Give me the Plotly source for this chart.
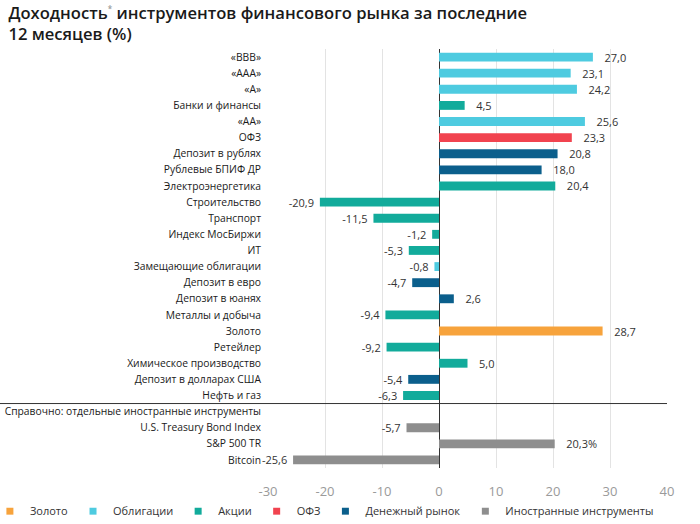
import plotly.graph_objects as go

categories = ["«BBB»", "«AAA»", "«A»", "Банки и финансы", "«AA»", "ОФЗ",
              "Депозит в рублях", "Рублевые БПИФ ДР", "Электроэнергетика",
              "Строительство", "Транспорт", "Индекс МосБиржи", "ИТ",
              "Замещающие облигации", "Депозит в евро", "Депозит в юанях",
              "Металлы и добыча", "Золото", "Ретейлер", "Химическое производство",
              "Депозит в долларах США", "Нефть и газ",
              "Справочно: отдельные иностранные инструменты",
              "U.S. Treasury Bond Index", "S&P 500 TR", "Bitcoin"]
values = [27.0, 23.1, 24.2, 4.5, 25.6, 23.3, 20.8, 18.0, 20.4, -20.9, -11.5, -1.2,
          -5.3, -0.8, -4.7, 2.6, -9.4, 28.7, -9.2, 5.0, -5.4, -6.3, None,
          -5.7, 20.3, -25.6]
groups = ["Облигации", "Облигации", "Облигации", "Акции", "Облигации", "ОФЗ",
          "Денежный рынок", "Денежный рынок", "Акции", "Акции", "Акции", "Акции",
          "Акции", "Облигации", "Денежный рынок", "Денежный рынок", "Акции",
          "Золото", "Акции", "Акции", "Денежный рынок", "Акции", None,
          "Иностранные инструменты", "Иностранные инструменты", "Иностранные инструменты"]
suffixes = [""] * 24 + ["%", ""]

legend_order = ["Золото", "Облигации", "Акции", "ОФЗ", "Денежный рынок",
                "Иностранные инструменты"]
colors = {"Золото": "#F7A33C", "Облигации": "#4ECBE0", "Акции": "#12AB9B",
          "ОФЗ": "#F1434F", "Денежный рынок": "#0B5F8C",
          "Иностранные инструменты": "#8E8E8E"}

x_ticks = [-30, -20, -10, 0, 10, 20, 30, 40]
sep_after = "Нефть и газ"

FONT = "Open Sans"
fig = go.Figure()

for g in legend_order:
    idx = [i for i, gg in enumerate(groups) if gg == g]
    xs = [values[i] for i in idx]
    ys = [i for i in idx]
    txt = []
    for i in idx:
        s = f"{values[i]:.1f}".replace(".", ",") + suffixes[i]
        txt.append("   " + s if values[i] >= 0 else s + " ")
    fig.add_trace(go.Bar(x=xs, y=ys, orientation="h", marker_color=colors[g],
                         marker_line_width=0, width=0.55, text=txt,
                         textposition="outside", cliponaxis=False,
                         constraintext="none",
                         textfont=dict(size=11, color="#333333", family=FONT),
                         showlegend=False))

for g in legend_order:
    fig.add_trace(go.Scatter(x=[None], y=[None], mode="markers", name=g,
                             marker=dict(symbol="square", size=7, color=colors[g])))

sep_y = categories.index(sep_after) + 0.5
fig.add_shape(type="line", xref="paper", yref="y", x0=-268 / 399, x1=1,
              y0=sep_y, y1=sep_y, line=dict(color="#333333", width=1))

fig.update_layout(
    width=700, height=524,
    margin=dict(l=268, r=33, t=49, b=56, autoexpand=False),
    paper_bgcolor="white", plot_bgcolor="white",
    barmode="overlay",
    font=dict(family=FONT, color="#222222"),
    title=dict(text="Доходность<sup><span style='font-size:8px;color:#999'>*</span></sup> инструментов финансового рынка за последние<br>12 месяцев (%)",
               x=0.012, xanchor="left", xref="container", y=0.964, yanchor="top",
               yref="container",
               font=dict(size=16.6, color="#1a1a1a", family=FONT, weight=600)),
    xaxis=dict(range=[-30, 40], tickvals=x_ticks, ticktext=[str(v) for v in x_ticks],
               showgrid=True, gridcolor="#e3e3e3", gridwidth=1,
               zeroline=True, zerolinecolor="#333333", zerolinewidth=1,
               ticks="outside", ticklen=11, tickcolor="rgba(0,0,0,0)",
               tickfont=dict(size=13, color="#9a9a9a", family=FONT),
               showline=False, automargin=False),
    yaxis=dict(range=[len(categories) - 0.5, -0.5], tickvals=list(range(len(categories))),
               ticktext=categories, showgrid=False, zeroline=False,
               ticks="", ticklabelstandoff=6, automargin=False,
               tickfont=dict(size=10.3, color="#1a1a1a", family=FONT)),
    legend=dict(orientation="h", xref="paper", yref="paper",
                x=-0.697, xanchor="left", y=-0.103, yanchor="middle",
                bgcolor="rgba(0,0,0,0)", borderwidth=0,
                font=dict(size=11, color="#333333", family=FONT),
                itemwidth=30, tracegroupgap=0),
)

fig.write_html("out.html")
